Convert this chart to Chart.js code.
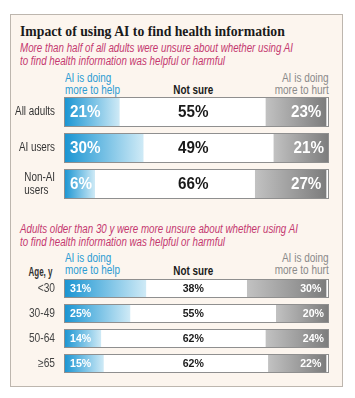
<!DOCTYPE html>
<html>
<head>
<meta charset="utf-8">
<script src="https://cdn.jsdelivr.net/npm/chart.js@4/dist/chart.umd.min.js"></script>
<style>
  html,body{margin:0;padding:0;background:#fff;}
  body{width:355px;height:398px;position:relative;overflow:hidden;font-family:"Liberation Sans",Arial,sans-serif;}
  #frame{position:absolute;left:10px;top:14px;width:331px;height:371px;border:1px solid #bdb6ae;background:#fcf5ee;}
  .abs{position:absolute;white-space:nowrap;}
  #title{left:20px;top:22px;font-family:"Liberation Serif","DejaVu Serif",serif;font-weight:bold;font-size:15.5px;color:#1a1a1a;transform-origin:left top;}
  .sub{left:20px;font-style:italic;font-size:12px;line-height:12.5px;color:#c4386e;transform-origin:left top;}
  .help{color:#2b9bd3;font-size:12px;line-height:11.5px;transform-origin:left top;}
  .hurt{color:#8a8a8a;font-size:12px;line-height:11.5px;text-align:right;transform-origin:right top;}
  .ns{font-weight:bold;font-size:12.5px;color:#1a1a1a;transform-origin:center top;}
  .age{font-weight:bold;font-size:12.5px;color:#333;transform-origin:right top;}
  .box{position:absolute;}
</style>
</head>
<body>
<div id="frame"></div>
<div id="title" class="abs" data-w="265">Impact of using AI to find health information</div>
<div class="abs sub" data-w="273" style="top:42px;">More than half of all adults were unsure about whether using AI<br>to find health information was helpful or harmful</div>
<div class="abs help" data-w="55" style="left:65px;top:73px;">AI is doing<br>more to help</div>
<div class="abs ns" data-w="40" data-cx="193" style="top:83px;">Not sure</div>
<div class="abs hurt" data-w="54" data-rx="329" style="top:73px;">AI is doing<br>more to hurt</div>

<div class="abs sub" data-w="278" style="top:223px;">Adults older than 30 y were more unsure about whether using AI<br>to find health information was helpful or harmful</div>
<div class="abs help" data-w="55" style="left:65px;top:253px;">AI is doing<br>more to help</div>
<div class="abs ns" data-w="40" data-cx="193" style="top:264px;">Not sure</div>
<div class="abs hurt" data-w="54" data-rx="329" style="top:253px;">AI is doing<br>more to hurt</div>
<div class="abs age" data-w="24" data-rx="53" style="top:265px;">Age, y</div>

<div class="box" style="left:10px;top:94px;width:332px;height:108px;"><canvas id="c1"></canvas></div>
<div class="box" style="left:10px;top:276px;width:332px;height:100px;"><canvas id="c2"></canvas></div>

<script>
// Panel 1 data
const groups1 = ['All adults', 'AI users', ['Non-AI', 'users']];
const help1   = [21, 30, 6];
const unsure1 = [55, 49, 66];
const hurt1   = [23, 21, 27];

// Panel 2 data
const ages    = ['<30', '30-49', '50-64', '\u226565'];
const help2   = [31, 25, 14, 15];
const unsure2 = [38, 55, 62, 62];
const hurt2   = [30, 20, 24, 22];

const FONT = '"Liberation Sans",Arial,sans-serif';
// smallest drawn width (in scale units) of the "help" segment so its label fits, as in the original graphic
const MIN_HELP_SHOWN = 11.7;

// fit HTML texts horizontally (condensed look)
document.querySelectorAll('[data-w]').forEach(el => {
  const w = el.getBoundingClientRect().width;
  const s = parseFloat(el.dataset.w) / w;
  if (el.dataset.cx) el.style.left = (parseFloat(el.dataset.cx) - w / 2) + 'px';
  if (el.dataset.rx) el.style.left = (parseFloat(el.dataset.rx) - w) + 'px';
  el.style.transform = 'scaleX(' + s.toFixed(3) + ')';
});

function gradFill(ctx, startFn, endFn, c0, c1) {
  const chart = ctx.chart;
  const x = chart.scales && chart.scales.x;
  if (!x || ctx.dataIndex === undefined) return c0;
  const i = ctx.dataIndex;
  const x0 = x.getPixelForValue(startFn(i));
  const x1 = x.getPixelForValue(endFn(i));
  if (!isFinite(x0) || !isFinite(x1) || x0 === x1) return c0;
  const g = chart.ctx.createLinearGradient(x0, 0, x1, 0);
  g.addColorStop(0, c0);
  g.addColorStop(1, c1);
  return g;
}

function condText(c, text, x, y, align, sx) {
  c.save();
  c.translate(x, y);
  c.scale(sx, 1);
  c.textAlign = align;
  c.fillText(text, 0, 0);
  c.restore();
}

function makeChart(id, labels, help, unsure, hurt, opts) {
  const helpShown = help.map(v => Math.max(v, MIN_HELP_SHOWN));
  const unsureShown = unsure.map((v, i) => v - (helpShown[i] - help[i]));
  const deco = {
    id: 'deco',
    beforeDatasetsDraw(chart) {
      const c = chart.ctx, x = chart.scales.x;
      const meta = chart.getDatasetMeta(0);
      c.save();
      c.fillStyle = '#ffffff';
      meta.data.forEach(el => {
        const h = el.height;
        c.fillRect(x.getPixelForValue(0), el.y - h / 2, x.getPixelForValue(100) - x.getPixelForValue(0), h);
      });
      c.restore();
    },
    afterDatasetsDraw(chart) {
      const c = chart.ctx, x = chart.scales.x, y = chart.scales.y;
      const m0 = chart.getDatasetMeta(0);
      c.save();
      c.strokeStyle = '#8f8f8f';
      c.lineWidth = 1;
      m0.data.forEach((el, i) => {
        const h = el.height;
        const l = Math.round(x.getPixelForValue(0)) + 0.5;
        const r = Math.round(x.getPixelForValue(100)) - 0.5;
        const t = Math.round(el.y - h / 2) + 0.5;
        c.strokeRect(l, t, r - l, Math.round(h) - 1);
        // value labels
        c.textBaseline = 'middle';
        c.font = 'bold ' + opts.labelSize + 'px ' + FONT;
        c.fillStyle = '#ffffff';
        condText(c, help[i] + '%', x.getPixelForValue(0) + opts.inset, el.y + 0.5, 'left', opts.labelSx);
        c.fillStyle = '#1a1a1a';
        condText(c, unsure[i] + '%', x.getPixelForValue(48.8), el.y + 0.5, 'center', opts.labelSx);
        c.fillStyle = '#ffffff';
        condText(c, hurt[i] + '%', x.getPixelForValue(helpShown[i] + unsureShown[i] + hurt[i]) - opts.inset + 1, el.y + 0.5, 'right', opts.labelSx);
      });
      // category labels (condensed)
      c.font = opts.tickSize + 'px ' + FONT;
      c.fillStyle = opts.tickColor;
      c.textBaseline = 'middle';
      const right = y.right - 9;
      chart.data.labels.forEach((lab, i) => {
        const cy = y.getPixelForTick(i);
        const lines = Array.isArray(lab) ? lab : [lab];
        const lh = opts.tickSize + 0.5;
        const maxw = Math.max(...lines.map(s => c.measureText(s).width * opts.tickSx));
        lines.forEach((s, k) => {
          const ly = cy + (k - (lines.length - 1) / 2) * lh;
          if (lines.length > 1) condText(c, s, right - maxw, ly, 'left', opts.tickSx);
          else condText(c, s, right, ly, 'right', opts.tickSx);
        });
      });
      c.restore();
    }
  };
  return new Chart(document.getElementById(id), {
    type: 'bar',
    data: {
      labels: labels,
      datasets: [
        { label: 'AI is doing more to help', data: helpShown,
          backgroundColor: ctx => gradFill(ctx, i => 0, i => helpShown[i], '#1894d2', '#cfeaf6') },
        { label: 'Not sure', data: unsureShown, backgroundColor: '#ffffff' },
        { label: 'AI is doing more to hurt', data: hurt,
          backgroundColor: ctx => gradFill(ctx, i => helpShown[i] + unsureShown[i], i => helpShown[i] + unsureShown[i] + hurt[i], '#c2c2c2', '#7c7c7c') }
      ]
    },
    options: {
      indexAxis: 'y',
      responsive: true,
      maintainAspectRatio: false,
      animation: false,
      events: [],
      layout: { padding: { left: 0, right: 13, top: 0, bottom: 0 } },
      datasets: { bar: { barPercentage: opts.barPct, categoryPercentage: 1, borderWidth: 0 } },
      plugins: { legend: { display: false }, tooltip: { enabled: false }, title: { display: false } },
      scales: {
        x: { stacked: true, min: 0, max: 100, display: false },
        y: {
          stacked: true,
          grid: { display: false },
          border: { display: false },
          ticks: { display: false },
          afterFit(scale) { scale.width = 54; scale.paddingTop = 0; scale.paddingBottom = 0; }
        }
      }
    },
    plugins: [deco]
  });
}

makeChart('c1', groups1, help1, unsure1, hurt1, { barPct: 0.833, labelSize: 16, labelSx: 0.95, inset: 6, tickColor: '#333333', tickSize: 12, tickSx: 0.82 });
makeChart('c2', ages, help2, unsure2, hurt2, { barPct: 0.74, labelSize: 11.5, labelSx: 0.92, inset: 6, tickColor: '#444444', tickSize: 12, tickSx: 0.85 });
</script>
</body>
</html>
